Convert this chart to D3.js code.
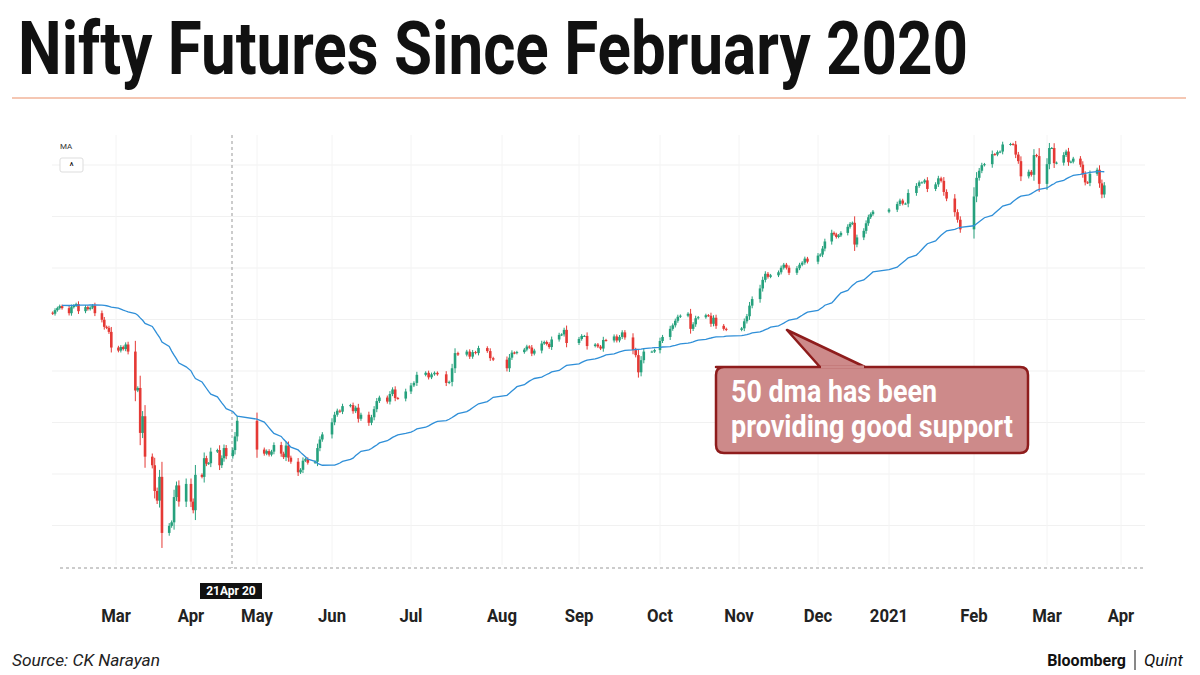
<!DOCTYPE html>
<html><head><meta charset="utf-8">
<script src="https://cdn.jsdelivr.net/npm/d3@7"></script>
<style>body{margin:0;background:#fff}</style></head>
<body><script>
// closes per month, assigned to that month's weekdays in order
let monthStarts = ['2019-12','2020-01','2020-02','2020-03','2020-04','2020-05','2020-06','2020-07','2020-08','2020-09','2020-10','2020-11','2020-12','2021-01','2021-02','2021-03']
let closes = [
	[12050,12080,12040,12020,11990,12030,12000,12080,12090,12010,11950,11990,12090,12160,12180,12240,12250,12270,12260,12130,12110,12200,12170],
	[12200,12280,12230,11990,12050,12010,12220,12260,12330,12340,12350,12320,12360,12340,12230,12190,12250,12180,12250,12120,12060,12040,12000],
	[11980,12050,12090,12130,12090,11990,12110,12140,12170,12030,12110,12070,12100,12140,11990,11860,11720,11700,11620,11310],
	[11250,11320,11280,11370,11230,10460,10510,9620,9950,9150,8980,8470,8280,8750,7640,7780,7850,8350,8580,8260,8610],
	[8260,8090,8790,8750,9120,9010,9020,9250,9280,8980,9120,9320,9160,9280,9550,9860],
	[9290,9210,9260,9190,9250,9380,9210,9140,9370,9130,9050,8840,8890,9070,9100,9030,9050,9320,9490,9590],
	[9830,9980,10060,10040,10150,10170,10050,10120,9900,9980,9820,9930,10090,10250,10320,10240,10390,10480,10310,10300,10440],
	[10560,10610,10770,10810,10720,10780,10810,10780,10610,10630,10900,11200,11170,11230,11130,11220,11200,11300,11240,11100,11070],
	[10900,11110,11210,11200,11220,11270,11330,11310,11190,11250,11390,11420,11380,11320,11470,11560,11570,11660,11400],
	[11480,11540,11540,11340,11370,11330,11290,11460,11450,11530,11450,11520,11610,11510,11260,11160,10820,11060,11230,11230,11260],
	[11440,11520,11680,11750,11840,11920,11940,11980,11680,11770,11890,11910,11950,11940,11780,11900,11740,11680,11660],
	[11690,11830,11930,12140,12270,12480,12650,12770,12710,12740,12800,12890,12950,12890,12790,12880,12950,12990,13070,13010],
	[13130,13150,13270,13410,13580,13550,13500,13530,13580,13700,13760,13780,13350,13490,13620,13770,13890,13950,14000],
	[14040,14150,14220,14160,14160,14370,14510,14580,14580,14620,14450,14540,14660,14610,14390,14260,13990,13840,13650],
	[14300,14670,14810,14920,14940,15140,15130,15180,15190,15330,15340,15330,15130,15000,14700,14790,14730,15120,15100,14550],
	[14940,15260,15260,14960,14970,15120,15190,14980,14990,15050,14930,14740,14580,14570,14750,14830,14560,14340,14520]
]
let monthTicks = ['2020-02-01','2020-03-01','2020-04-01','2020-05-01','2020-06-01','2020-07-01','2020-08-01','2020-09-01','2020-10-01','2020-11-01','2020-12-01','2021-01-01','2021-02-01','2021-03-01','2021-04-01']
let monthLabels = ['','Mar','Apr','May','Jun','Jul','Aug','Sep','Oct','Nov','Dec','2021','Feb','Mar','Apr']
let tickPx = [48,116,191,257,332,411,502,579,660,739,818,889,974,1047,1121]
let maPeriod = 50

// build daily rows
let days = []
monthStarts.forEach((m, i) => {
	let d = new Date(m + '-01T00:00:00')
	let mo = d.getMonth(), k = 0
	while (d.getMonth() === mo && k < closes[i].length) {
		if (d.getDay() !== 0 && d.getDay() !== 6) {
			days.push({date: new Date(d), close: closes[i][k]})
			k++
		}
		d.setDate(d.getDate() + 1)
	}
})
days.forEach((r, i) => {
	r.open = i ? days[i-1].close : r.close
	let body = Math.abs(r.close - r.open)
	r.high = Math.max(r.open, r.close) + 20 + body*0.25
	r.low = Math.min(r.open, r.close) - 20 - body*0.25
	if (i >= maPeriod - 1) r.ma = d3.mean(days.slice(i - maPeriod + 1, i + 1), e => e.close)
})
let tickDates = monthTicks.map(t => new Date(t + 'T00:00:00'))
let t0 = tickDates[0]
let shown = days.filter(r => r.date >= t0)

let W = 1200, H = 675
let svg = d3.select('body').append('svg').attr('width', W).attr('height', H)
	.style('font-family', 'Roboto, sans-serif')

svg.append('text').attr('x', 18).attr('y', 74).text('Nifty Futures Since February 2020')
	.attr('font-size', 74).attr('font-weight', 'bold').attr('fill', '#111')
	.attr('textLength', 950).attr('lengthAdjust', 'spacingAndGlyphs')
svg.append('line').attr('x1', 12).attr('x2', 1186).attr('y1', 98).attr('y2', 98)
	.style('stroke', '#f2b49a').attr('stroke-width', 1.5)

let x = d3.scaleTime().domain(tickDates).range(tickPx)
let y = d3.scaleLinear().domain([7500, 15300]).range([540, 146])

let g = svg.append('g')
// faint grid
d3.range(8).forEach(i => {
	g.append('line').attr('x1', 52).attr('x2', 1145).attr('y1', 165 + i*51.5).attr('y2', 165 + i*51.5)
		.style('stroke', '#f1f1f1')
})
tickDates.slice(1).forEach(t => {
	let xx = x(t)
	if (xx < 1145) g.append('line').attr('x1', xx).attr('x2', xx).attr('y1', 135).attr('y2', 565).style('stroke', '#f4f4f4')
})
g.append('line').attr('x1', 60).attr('x2', 1145).attr('y1', 568).attr('y2', 568)
	.style('stroke', '#999').attr('stroke-dasharray', '3,3')
g.append('line').attr('x1', 232).attr('x2', 232).attr('y1', 135).attr('y2', 568)
	.style('stroke', '#999').attr('stroke-dasharray', '3,3')

// candles
let cw = 2.6
let c = g.selectAll('.c').data(shown).enter().append('g')
c.append('line').attr('x1', d => x(d.date)).attr('x2', d => x(d.date))
	.attr('y1', d => y(d.high)).attr('y2', d => y(d.low))
	.style('stroke', d => d.close >= d.open ? '#26a17d' : '#e53935').attr('stroke-width', 1)
c.append('rect').attr('x', d => x(d.date) - cw/2).attr('width', cw)
	.attr('y', d => y(Math.max(d.open, d.close)))
	.attr('height', d => Math.max(1, Math.abs(y(d.open) - y(d.close))))
	.attr('fill', d => d.close >= d.open ? '#26a17d' : '#e53935')

g.append('path').datum(shown.filter(d => d.ma))
	.attr('d', d3.line().x(d => x(d.date)).y(d => y(d.ma)))
	.attr('fill', 'none').style('stroke', '#2f8fd8').attr('stroke-width', 1.3)

// MA widget
svg.append('text').attr('x', 60).attr('y', 149).text('MA').attr('font-size', 8).attr('fill', '#333')
svg.append('rect').attr('x', 60).attr('y', 158).attr('width', 23).attr('height', 14).attr('rx', 2)
	.attr('fill', '#fff').style('stroke', '#ddd')
svg.append('text').attr('x', 71.5).attr('y', 170).text('^').attr('font-size', 10).attr('text-anchor', 'middle')

// month labels
tickDates.forEach((t, i) => {
	if (!monthLabels[i]) return
	let xx = x(t)
	svg.append('text').attr('x', xx).attr('y', 622)
		.text(monthLabels[i]).attr('text-anchor', 'middle')
		.attr('font-size', 19).attr('font-weight', 'bold').attr('fill', '#222')
		.attr('transform', `translate(${xx*0.12},0) scale(0.88,1)`)
})
svg.append('rect').attr('x', 200).attr('y', 583).attr('width', 62).attr('height', 16).attr('fill', '#111')
svg.append('text').attr('x', 231).attr('y', 595).text('21Apr 20').attr('text-anchor', 'middle')
	.attr('font-size', 12).attr('font-weight', 'bold').attr('fill', '#fff')

// callout
svg.append('path').attr('d', 'M716,367 L1020,367 Q1028,367 1028,375 L1028,445 Q1028,453 1020,453 L724,453 Q716,453 716,445 L716,375 Q716,367 724,367 L820,367 L787,330 L865,367 Z')
	.attr('fill', '#cd8a8a').style('stroke', '#8e1c1c').attr('stroke-width', 2.5).attr('stroke-linejoin', 'round')
svg.append('path').attr('d', 'M821,367 L864,367').style('stroke', '#cd8a8a').attr('stroke-width', 3)
;['50 dma has been', 'providing good support'].forEach((s, i) => {
	svg.append('text').attr('x', 731).attr('y', 402 + i*35).text(s)
		.attr('font-size', 31).attr('font-weight', 'bold').attr('fill', '#fff')
		.attr('textLength', i ? 282 : 206).attr('lengthAdjust', 'spacingAndGlyphs')
})

svg.append('text').attr('x', 12).attr('y', 666).text('Source: CK Narayan')
	.attr('font-size', 16).attr('font-style', 'italic').attr('fill', '#222')
	.attr('textLength', 148).attr('lengthAdjust', 'spacingAndGlyphs')
svg.append('text').attr('x', 1126).attr('y', 666).text('Bloomberg').attr('text-anchor', 'end')
	.attr('font-size', 16).attr('font-weight', 'bold').attr('fill', '#111')
svg.append('line').attr('x1', 1135).attr('x2', 1135).attr('y1', 650).attr('y2', 670).style('stroke', '#111')
svg.append('text').attr('x', 1144).attr('y', 666).text('Quint')
	.attr('font-size', 17).attr('font-style', 'italic').attr('fill', '#111')
</script></body></html>
